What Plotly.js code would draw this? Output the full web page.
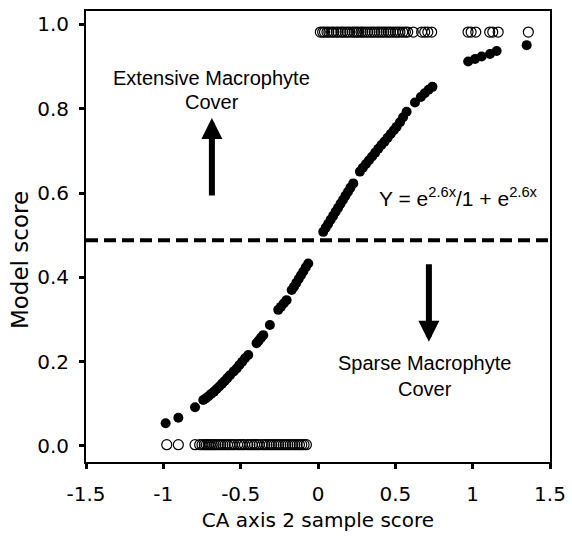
<!DOCTYPE html>
<html>
<head>
<meta charset="utf-8">
<script src="https://cdn.plot.ly/plotly-3.0.1.min.js"></script>
<style>html,body{margin:0;padding:0;background:#fff;}#chart{width:572px;height:542px;}</style>
</head>
<body>
<div id="chart"></div>
<script>
// Fitted model scores (filled circles)
const fittedX = [-0.985,-0.903,-0.795,-0.742,-0.725,-0.708,-0.69,-0.672,-0.655,-0.638,-0.62,-0.603,-0.586,-0.569,-0.545,-0.526,-0.508,-0.49,-0.472,-0.451,-0.397,-0.383,-0.368,-0.354,-0.311,-0.257,-0.24,-0.222,-0.203,-0.17,-0.155,-0.14,-0.125,-0.11,-0.095,-0.079,-0.063,
  0.034,0.05,0.066,0.082,0.098,0.114,0.13,0.146,0.162,0.178,0.194,0.21,0.228,0.271,0.29,0.31,0.33,0.35,0.37,0.39,0.41,0.43,0.45,0.47,0.49,0.508,0.53,0.55,0.573,0.627,0.665,0.69,0.715,0.74,0.971,1.015,1.058,1.112,1.155,1.349];
const fittedY = [0.054,0.067,0.092,0.109,0.113,0.118,0.124,0.129,0.135,0.141,0.148,0.154,0.161,0.168,0.177,0.184,0.192,0.200,0.208,0.216,0.244,0.250,0.257,0.263,0.287,0.323,0.330,0.338,0.346,0.370,0.378,0.387,0.396,0.405,0.414,0.424,0.433,
  0.508,0.518,0.527,0.537,0.546,0.556,0.565,0.575,0.584,0.594,0.603,0.613,0.623,0.651,0.660,0.669,0.678,0.687,0.696,0.705,0.714,0.722,0.731,0.740,0.749,0.757,0.768,0.780,0.793,0.815,0.828,0.837,0.845,0.852,0.912,0.918,0.924,0.930,0.937,0.951];

// Observed samples with extensive cover (open circles, top)
const extensiveX = [0.015,0.03,0.042,0.058,0.07,0.088,0.1,0.118,0.13,0.148,0.16,0.175,0.19,0.205,0.222,0.235,0.25,0.262,0.278,0.29,0.305,0.32,0.336,0.35,0.365,0.382,0.395,0.41,0.425,0.44,0.455,0.468,0.485,0.5,0.515,0.53,0.548,0.565,0.58,0.616,0.67,0.69,0.71,0.735,0.97,0.99,1.02,1.11,1.13,1.165,1.36];
const extensiveY = extensiveX.map(() => 0.982);

// Observed samples with sparse cover (open circles, bottom)
const sparseX = [-0.978,-0.903,-0.795,-0.765,-0.75,-0.735,-0.722,-0.71,-0.698,-0.685,-0.672,-0.66,-0.645,-0.63,-0.615,-0.6,-0.585,-0.57,-0.555,-0.54,-0.52,-0.505,-0.49,-0.475,-0.455,-0.44,-0.425,-0.41,-0.395,-0.38,-0.36,-0.345,-0.33,-0.315,-0.3,-0.285,-0.27,-0.255,-0.24,-0.225,-0.21,-0.195,-0.18,-0.165,-0.15,-0.135,-0.12,-0.105,-0.09,-0.075];
const sparseY = sparseX.map(() => 0.003);

const thresholdY = 0.488;

const xTickVals = [-1.5,-1,-0.5,0,0.5,1,1.5];
const xTickText = ['-1.5','-1','-0.5','0','0.5','1','1.5'];
const yTickVals = [0,0.2,0.4,0.6,0.8,1.0];
const yTickText = ['0.0','0.2','0.4','0.6','0.8','1.0'];

const traces = [
  {x: extensiveX, y: extensiveY, type:'scatter', mode:'markers',
   marker:{symbol:'circle-open', size:10, color:'#000', line:{width:1.2, color:'#000'}}, hoverinfo:'skip'},
  {x: sparseX, y: sparseY, type:'scatter', mode:'markers',
   marker:{symbol:'circle-open', size:10, color:'#000', line:{width:1.2, color:'#000'}}, hoverinfo:'skip'},
  {x: fittedX, y: fittedY, type:'scatter', mode:'markers',
   marker:{symbol:'circle', size:10, color:'#000'}, hoverinfo:'skip'}
];

const annFont = {family:'Liberation Sans, Arial, sans-serif', size:20, color:'#000'};

const layout = {
  width:572, height:542,
  margin:{l:86, r:22, t:11, b:80},
  paper_bgcolor:'#fff', plot_bgcolor:'#fff',
  showlegend:false,
  font:{family:'DejaVu Sans, Verdana, sans-serif', color:'#000'},
  xaxis:{range:[-1.5,1.5], tickvals:xTickVals, ticktext:xTickText,
    showgrid:false, zeroline:false, showline:true, linecolor:'#000', linewidth:2, mirror:true,
    ticks:'outside', ticklen:5, tickwidth:3, tickcolor:'#000',
    tickfont:{size:20}, ticklabelstandoff:8,
    title:{text:'CA axis 2 sample score', font:{size:20}, standoff:8}},
  yaxis:{range:[-0.038,1.032], tickvals:yTickVals, ticktext:yTickText,
    showgrid:false, zeroline:false, showline:true, linecolor:'#000', linewidth:2, mirror:true,
    ticks:'outside', ticklen:5, tickwidth:3, tickcolor:'#000',
    tickfont:{size:20}, ticklabelstandoff:6},
  shapes:[
    {type:'line', xref:'paper', yref:'y', x0:0, x1:1, y0:thresholdY, y1:thresholdY,
     line:{color:'#000', width:4, dash:'12px,6px'}}
  ],
  annotations:[
    {x:-0.142, y:0.448, xref:'paper', yref:'paper', xanchor:'center', yanchor:'middle',
     text:'Model score', textangle:-90, showarrow:false,
     font:{family:'DejaVu Sans, Verdana, sans-serif', size:23, color:'#000'}},
    {x:-0.686, y:0.873, xref:'x', yref:'y', text:'Extensive Macrophyte', showarrow:false, font:annFont},
    {x:-0.686, y:0.816, xref:'x', yref:'y', text:'Cover', showarrow:false, font:annFont},
    {x:0.691, y:0.196, xref:'x', yref:'y', text:'Sparse Macrophyte', showarrow:false, font:annFont},
    {x:0.691, y:0.136, xref:'x', yref:'y', text:'Cover', showarrow:false, font:annFont},
    {x:0.911, y:0.591, xref:'x', yref:'y', text:'Y = e<sup>2.6x</sup>/1 + e<sup>2.6x</sup>', showarrow:false,
     font:{family:'Liberation Sans, Arial, sans-serif', size:21, color:'#000'}},
    {x:-0.686, y:0.778, xref:'x', yref:'y', text:'', showarrow:true, arrowhead:2, arrowsize:0.7, arrowwidth:6, arrowcolor:'#000', ax:0, ay:79, standoff:0},
    {x:0.717, y:0.247, xref:'x', yref:'y', text:'', showarrow:true, arrowhead:2, arrowsize:0.7, arrowwidth:6, arrowcolor:'#000', ax:0, ay:-79, standoff:0}
  ]
};

Plotly.newPlot('chart', traces, layout, {displayModeBar:false, staticPlot:true});
</script>
</body>
</html>
